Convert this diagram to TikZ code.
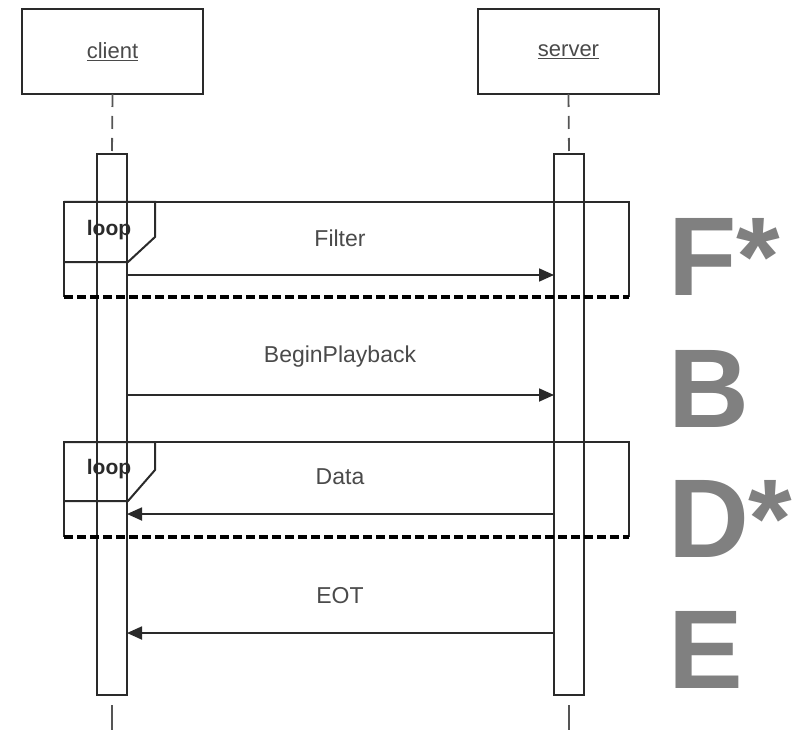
\documentclass[tikz,border=0pt]{standalone}
\usepackage{fontspec}
\setmainfont{Liberation Sans}
\usetikzlibrary{arrows.meta}
\definecolor{ink}{HTML}{2A2A2A}
\definecolor{big}{HTML}{808080}
\tikzset{
  x=1pt, y=-1pt,
  every node/.style={inner sep=0pt, outer sep=0pt},
  lifebox/.style={draw=ink, line width=2pt, minimum width=181pt, minimum height=85pt, font=\fontsize{22}{24}\selectfont, text=ink!85},
  actbox/.style={draw=ink, line width=2pt, minimum width=30pt, minimum height=541pt},
  lifeline/.style={draw=ink!80, line width=1.8pt, dash pattern=on 13pt off 9pt},
  msg/.style={draw=ink, line width=1.8pt, -{Triangle[length=15pt,width=13pt]}},
  frameline/.style={draw=ink, line width=2pt},
  framedash/.style={draw=black, line width=3.5pt, dash pattern=on 9pt off 4pt},
  msglabel/.style={font=\fontsize{23}{25}\selectfont, text=ink!85},
  looplabel/.style={font=\bfseries\fontsize{21}{23}\selectfont, text=ink},
  bigletter/.style={font=\bfseries\fontsize{112}{112}\selectfont, text=big, anchor=base west}
}
\begin{document}
\begin{tikzpicture}
\useasboundingbox (0,0) rectangle (794,735);
% lifeline heads
\node[lifebox] (client) at (112.5,51.5) {\underline{client}};
\node[lifebox] (server) at (568.5,51.5) {\underline{server}};
% activation bars
\node[actbox] (ca) at (112,424.5) {};
\node[actbox] (sa) at (569,424.5) {};
\coordinate (cend) at (112,732);
\coordinate (send) at (569,732);
\draw[lifeline] (client.south) -- (ca.north);
\draw[lifeline] (server.south) -- (sa.north);
\draw[lifeline, dash pattern=on 0pt off 10pt on 25pt off 20pt] (ca.south) -- (cend);
\draw[lifeline, dash pattern=on 0pt off 10pt on 25pt off 20pt] (sa.south) -- (send);
% loop frame 1
\draw[frameline] (64,297) -- (64,202) -- (629,202) -- (629,297);
\draw[framedash] (64,297) -- (629,297);
\draw[frameline] (64,202) -- (155,202) -- (155,237) -- (128,262) -- (64,262);
\node[looplabel] (loop1) at (109,230) {loop};
% loop frame 2
\draw[frameline] (64,537) -- (64,442) -- (629,442) -- (629,537);
\draw[framedash] (64,537) -- (629,537);
\draw[frameline] (64,442) -- (155,442) -- (155,470) -- (128,501) -- (64,501);
\node[looplabel] (loop2) at (109,469) {loop};
% messages
\coordinate (m1) at (0,275);
\coordinate (m2) at (0,395);
\coordinate (m3) at (0,514);
\coordinate (m4) at (0,633);
\draw[msg] (ca.east |- m1) -- (sa.west |- m1);
\draw[msg] (ca.east |- m2) -- (sa.west |- m2);
\draw[msg] (sa.west |- m3) -- (ca.east |- m3);
\draw[msg] (sa.west |- m4) -- (ca.east |- m4);
\node[msglabel] (lf) at (340,238) {Filter};
\node[msglabel] (lb) at (340,357) {BeginPlayback};
\node[msglabel] (ld) at (340,477) {Data};
\node[msglabel] (le) at (340,596) {EOT};
% big letters
\node[bigletter] (bf) at (668,295) {F*};
\node[bigletter] (bb) at (668,427) {B};
\node[bigletter] (bd) at (668,557) {D*};
\node[bigletter] (be) at (668,688) {E};
\end{tikzpicture}
\end{document}
